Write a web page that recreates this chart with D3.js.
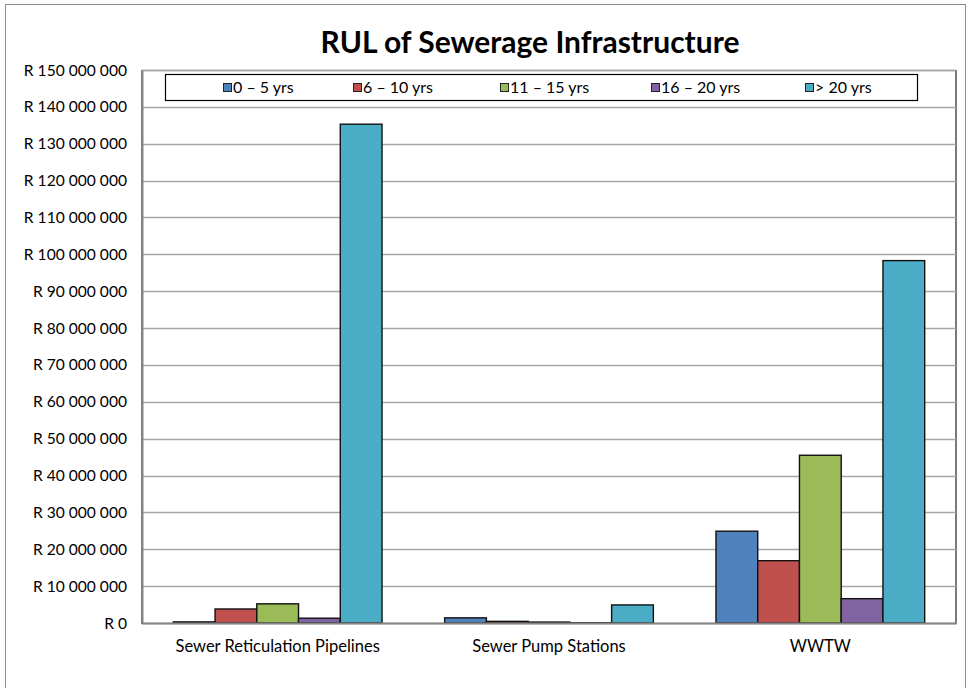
<!DOCTYPE html>
<html><head><meta charset="utf-8">
<script src="https://cdn.jsdelivr.net/npm/d3@7"></script>
<style>body{margin:0;background:#fff}svg{display:block;font-family:Lato,"Open Sans",sans-serif}</style>
</head><body><svg id="c" width="973" height="688"></svg>
<script>
const title = "RUL of Sewerage Infrastructure";
const categories = ["Sewer Reticulation Pipelines", "Sewer Pump Stations", "WWTW"];
const seriesNames = ["0 – 5 yrs", "6 – 10 yrs", "11 – 15 yrs", "16 – 20 yrs", "> 20 yrs"];
const seriesColors = ["#4F81BD", "#C0504D", "#9BBB59", "#8064A2", "#4BACC6"];
const s0_5 = [300000, 1400000, 24900000];
const s6_10 = [3800000, 450000, 16900000];
const s11_15 = [5200000, 250000, 45500000];
const s16_20 = [1300000, 50000, 6600000];
const s20p = [135300000, 4900000, 98300000];
const yTicks = d3.range(0, 150000001, 10000000);

const series = [s0_5, s6_10, s11_15, s16_20, s20p];
const svg = d3.select("#c");
const m = {l:142, r:956, t:70, b:623};

svg.append("rect").attr("x",5.5).attr("y",4.5).attr("width",960).attr("height",700)
  .attr("fill","#fff").attr("stroke","#8c8c8c").attr("stroke-width",1);

const x0 = d3.scaleBand().domain(categories).range([m.l, m.r]).paddingInner(0).paddingOuter(0);
const x1 = d3.scaleBand().domain(d3.range(5)).range([0, x0.bandwidth()]).paddingOuter(0.75).paddingInner(0);
const y = d3.scaleLinear().domain([0,150000000]).range([m.b, m.t]);

const fmt = v => "R " + d3.format(",")(v).replace(/,/g, " ");

// plot border
svg.append("rect").attr("x",m.l).attr("y",m.t+0.5).attr("width",m.r-m.l).attr("height",m.b-m.t)
  .attr("fill","none").attr("stroke","#222").attr("stroke-width",1.2);

// gridlines
svg.append("g").selectAll("line").data(yTicks.slice(1)).join("line")
  .attr("x1",m.l).attr("x2",m.r).attr("y1",d=>Math.round(y(d))+0.5).attr("y2",d=>Math.round(y(d))+0.5)
  .attr("stroke","#a6a6a6").attr("stroke-width",1.3);

// y axis
const ya = svg.append("g").attr("transform",`translate(${m.l},0)`)
  .call(d3.axisLeft(y).tickValues(yTicks).tickFormat(fmt).tickSize(0).tickPadding(15));
ya.select(".domain").attr("stroke","#868686").attr("stroke-width",2);
ya.selectAll("text").attr("font-size",15.6).attr("fill","#000").attr("font-family","Lato, sans-serif");

// bars
const g = svg.append("g");
categories.forEach((c, ci) => {
  series.forEach((s, si) => {
    const v = s[ci];
    g.append("rect")
      .attr("x", x0(c) + x1(si))
      .attr("y", y(v))
      .attr("width", x1.bandwidth())
      .attr("height", y(0) - y(v))
      .attr("fill", seriesColors[si])
      .attr("stroke", "#111").attr("stroke-width", 1.4);
  });
});

// x axis
const xa = svg.append("g").attr("transform",`translate(0,${m.b})`)
  .call(d3.axisBottom(x0).tickSize(0).tickPadding(17));
xa.select(".domain").attr("stroke","#868686").attr("stroke-width",2);
xa.selectAll("text").attr("font-size",16.5).attr("fill","#000").attr("font-family","Lato, sans-serif");

// title
svg.append("text").attr("x",530).attr("y",53).attr("text-anchor","middle")
  .attr("font-size",30).attr("font-weight","bold").attr("fill","#000").text(title);

// legend
const lg = svg.append("g");
lg.append("rect").attr("x",165.5).attr("y",74.5).attr("width",752).attr("height",26)
  .attr("fill","#fff").attr("stroke","#000").attr("stroke-width",1.2);
const lx = [223, 353, 500, 651, 805];
seriesNames.forEach((n, i) => {
  lg.append("rect").attr("x",lx[i]+0.5).attr("y",83.5).attr("width",8).attr("height",8)
    .attr("fill",seriesColors[i]).attr("stroke","#222").attr("stroke-width",1);
  lg.append("text").attr("x",lx[i]+10).attr("y",93).attr("font-size",16).attr("fill","#000").text(n);
});
</script></body></html>
